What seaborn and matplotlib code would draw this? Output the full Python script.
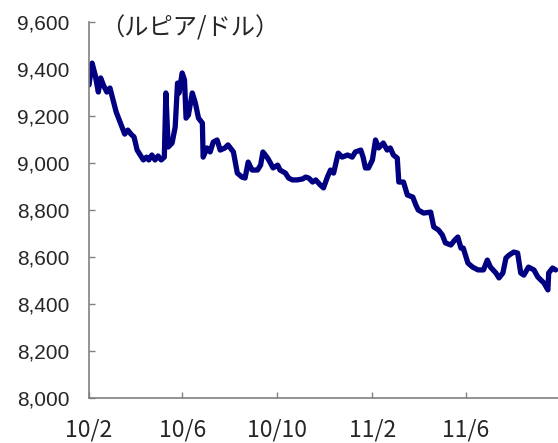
import matplotlib
matplotlib.use("Agg")
import matplotlib.pyplot as plt
import matplotlib.ticker as mticker
import pandas as pd
import seaborn as sns

# days after 2010-02-01 and the rupiah / dollar rate
days = [0, 4, 8, 12, 15, 19, 23, 27, 31, 35, 39, 43, 46, 50, 54, 58, 62, 66, 70, 74,
        77, 81, 85, 89, 93, 97, 99, 102, 107, 111, 114, 116, 120, 123, 125, 128, 133, 137, 141, 146,
        147, 152, 156, 160, 165, 169, 175, 179, 186, 191, 197, 201, 205, 210, 217, 221, 224, 230, 233, 237,
        243, 246, 253, 257, 262, 268, 275, 279, 283, 288, 292, 298, 302, 307, 311, 315, 321, 326, 333, 339,
        343, 350, 353, 356, 360, 365, 369, 373, 379, 384, 388, 392, 397, 399, 405, 410, 417, 421, 424, 431,
        440, 444, 450, 455, 459, 466, 471, 475, 479, 482, 488, 494, 501, 508, 513, 517, 524, 528, 533, 537,
        541, 547, 552, 556, 560, 566, 573, 578, 582, 586, 591, 592, 597, 601]
rates = [9332, 9425, 9374, 9302, 9362, 9328, 9302, 9319, 9268, 9217, 9183, 9149, 9123, 9140, 9123, 9111, 9055, 9034, 9013, 9025,
         9013, 9034, 9013, 9030, 9013, 9025, 9298, 9068, 9085, 9153, 9340, 9298, 9383, 9353, 9191, 9204, 9298, 9255, 9191, 9170,
         9025, 9064, 9047, 9089, 9098, 9055, 9064, 9077, 9047, 8957, 8940, 8936, 9004, 8970, 8970, 8991, 9047, 9021, 9004, 8979,
         8991, 8970, 8957, 8936, 8928, 8928, 8932, 8940, 8936, 8919, 8928, 8906, 8894, 8940, 8970, 8957, 9042, 9025, 9034, 9025,
         9047, 9055, 9025, 8979, 8979, 9013, 9098, 9064, 9085, 9055, 9064, 9034, 9021, 8919, 8919, 8864, 8855, 8821, 8800, 8787,
         8791, 8728, 8715, 8694, 8660, 8651, 8672, 8685, 8638, 8638, 8574, 8557, 8545, 8545, 8587, 8557, 8532, 8511, 8532, 8596,
         8608, 8621, 8617, 8532, 8523, 8557, 8545, 8515, 8502, 8489, 8460, 8532, 8553, 8545]

tick_dates = ['2010-02-01', '2010-06-01', '2010-10-01', '2011-02-01', '2011-06-01']
tick_labels = ['10/2', '10/6', '10/10', '11/2', '11/6']
unit_label = '（ルピア/ドル）'

df = pd.DataFrame({
    'date': pd.Timestamp('2010-02-01') + pd.to_timedelta(days, unit='D'),
    'rate': rates,
})

sns.set_style('ticks')
plt.rcParams['font.family'] = ['Liberation Sans', 'DejaVu Sans']

fig = plt.figure(figsize=(5.58, 4.43), dpi=100)
ax = fig.add_axes([89 / 558, 45 / 443, 469 / 558, 376 / 443])

sns.lineplot(data=df, x='date', y='rate', ax=ax, color='#000080', linewidth=3.8)

ax.set_xlim(pd.Timestamp('2010-02-01'), pd.Timestamp('2011-09-28'))
ax.set_ylim(8000, 9600)
ax.set_yticks(range(8000, 9601, 200))
ax.yaxis.set_major_formatter(mticker.StrMethodFormatter('{x:,.0f}'))
ax.set_xticks(pd.to_datetime(tick_dates))
ax.set_xticklabels(tick_labels, fontfamily=['Noto Sans CJK JP', 'DejaVu Sans'], fontsize=16.5)
for lab in ax.get_yticklabels():
    lab.set_fontsize(15)
ax.set_xlabel('')
ax.set_ylabel('')

for side in ['top', 'right']:
    ax.spines[side].set_visible(False)
for side in ['left', 'bottom']:
    ax.spines[side].set_color('#808080')
    ax.spines[side].set_linewidth(1.2)
ax.tick_params(axis='both', direction='in', length=4, width=1, color='#808080')
ax.tick_params(axis='y', pad=14)
ax.tick_params(axis='x', pad=15)

fig.text(100 / 558, 1 - 28 / 443, unit_label, fontsize=17.5,
         family=['Noto Sans CJK JP', 'DejaVu Sans'], va='center', ha='left')

fig.savefig('out.png', dpi=100)
